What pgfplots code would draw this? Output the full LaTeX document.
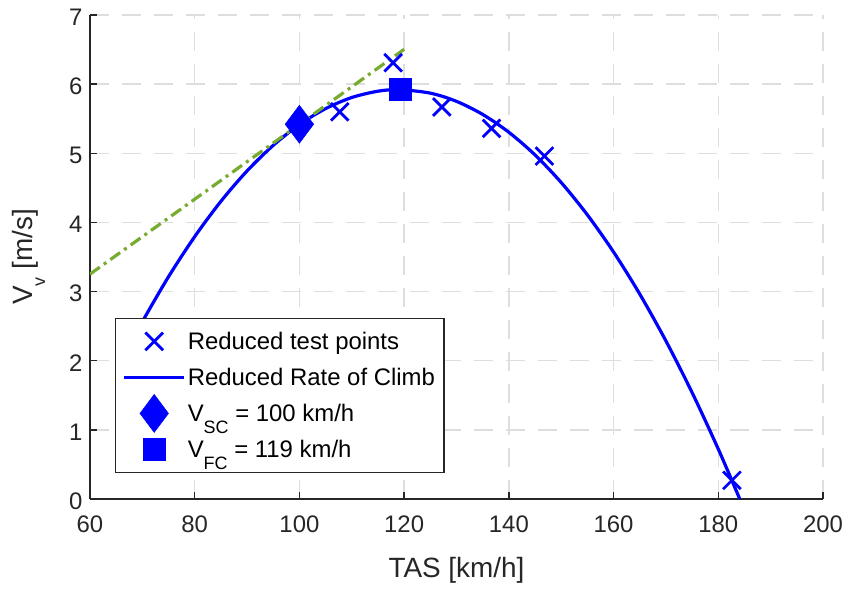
\documentclass[border=0pt]{standalone}
\usepackage{fontspec}
\setmainfont{Liberation Sans}
\usepackage{pgfplots}
\pgfplotsset{compat=1.18}

\definecolor{climbgreen}{rgb}{0.466,0.674,0.188}
\definecolor{axgray}{gray}{0.15}
\definecolor{gridgray}{gray}{0.87}

\begin{document}
\begin{tikzpicture}
\begin{axis}[
  scale only axis, width=733bp, height=484bp,
  xmin=60, xmax=200, ymin=0, ymax=7,
  xtick={60,80,...,200}, ytick={0,1,...,7},
  axis x line*=bottom, axis y line*=left,
  axis line style={axgray, line width=1.3bp, -},
  tick style={axgray, line width=1.3bp},
  tick align=inside, major tick length=7bp,
  grid=major,
  major grid style={gridgray, line width=1.3bp, dash pattern=on 19bp off 13bp},
  tick label style={font=\fontsize{24}{28}\selectfont, text=axgray},
  /pgf/number format/assume math mode=true,
  xticklabel style={yshift=-13bp},
  yticklabel style={xshift=-4bp, yshift=-2bp},
  xlabel={TAS [km/h]},
  ylabel={V\raisebox{-13bp}{\fontsize{18}{18}\selectfont v} [m/s]},
  label style={font=\fontsize{28}{32}\selectfont, text=axgray},
  xlabel style={at={(axis description cs:0.5,-0.1632)}, anchor=base},
  ylabel style={at={(axis description cs:-0.0791,0.5)}, anchor=base},
  % legend samples 60bp long; markers do not enlarge the legend rows
  legend image code/.code={%
    \path (0bp,0bp) (60bp,0bp);
    \draw[overlay,mark repeat=2,mark phase=2,#1] plot coordinates {(0bp,0bp) (30bp,0bp) (60bp,0bp)};},
  legend cell align=left,
  legend style={at={(0.0341,0.0537)}, anchor=south west,
    draw=axgray, line width=1.2bp, fill=white,
    font=\fontsize{24}{28}\selectfont,
    nodes={inner ysep=0bp, text height=20bp, text depth=4bp},
    inner xsep=7bp, inner ysep=11bp, row sep=12bp},
]
% reduced flight test points
\addplot[only marks, blue, mark=x, mark size=12.5bp, line width=2.8bp]
  coordinates {(107.7,5.60) (117.9,6.31) (127.2,5.67) (136.7,5.36) (146.8,4.96) (182.6,0.27)};
\addlegendentry{Reduced test points}

% fitted reduced rate of climb
\addplot[blue, line width=3.2bp, smooth, no marks]
  coordinates {(68,2.286) (70,2.566) (75,3.215) (80,3.795) (85,4.305) (90,4.745)
               (95,5.115) (100,5.416) (105,5.646) (110,5.807) (115,5.898) (119,5.920)
               (125,5.870) (130,5.751) (135,5.562) (140,5.304) (145,4.976) (150,4.577)
               (155,4.109) (160,3.572) (165,2.964) (170,2.286) (175,1.539) (180,0.722)
               (184.1,0.000)};
\addlegendentry{Reduced Rate of Climb}

% best climb angle speed
\addplot[only marks, blue, mark=diamond*, mark size=19bp, line width=0.5bp]
  coordinates {(100,5.42)};
\addlegendentry{V\raisebox{-12bp}{\fontsize{18}{18}\selectfont SC} = 100 km/h}

% best climb rate speed
\addplot[only marks, blue, mark=square*, mark size=11bp, line width=0.5bp]
  coordinates {(119.2,5.92)};
\addlegendentry{V\raisebox{-12bp}{\fontsize{18}{18}\selectfont FC} = 119 km/h}

% tangent from the origin
\addplot[climbgreen, line width=3.2bp, dash pattern=on 12bp off 5bp on 3bp off 5bp, forget plot]
  coordinates {(60,3.252) (120,6.504)};
\end{axis}
\pgfresetboundingbox
\path (-90bp,-90bp) rectangle (757bp,499bp);
\end{tikzpicture}
\end{document}
